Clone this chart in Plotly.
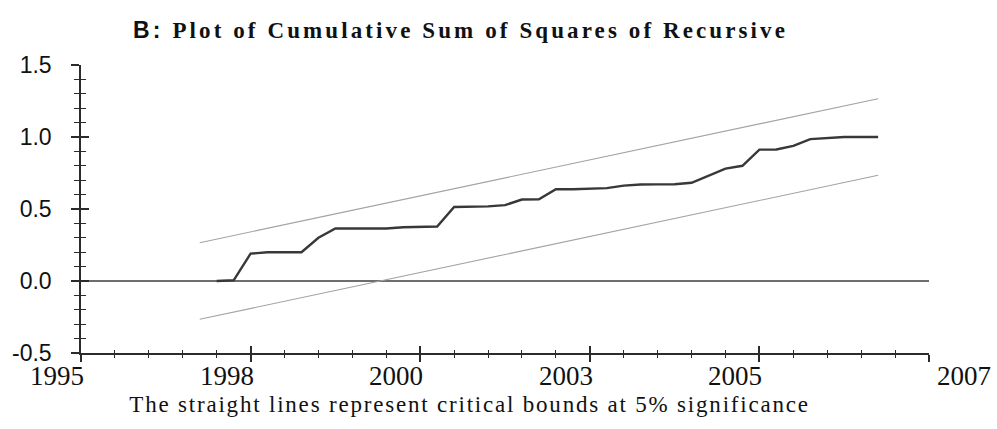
import plotly.graph_objects as go

# Observation index along the horizontal axis (quarters counted from the start of 1995)
obs = [8, 9, 10, 11, 12, 13, 14, 15, 16, 17, 18, 19, 20, 21, 22, 23, 24, 25, 26, 27,
       28, 29, 30, 31, 32, 33, 34, 35, 36, 37, 38, 39, 40, 41, 42, 43, 44, 45, 46, 47]

# Cumulative sum of squares of recursive residuals
cusumsq = [0.000, 0.005, 0.190, 0.200, 0.200, 0.200, 0.300, 0.365, 0.365, 0.365,
           0.365, 0.373, 0.373, 0.378, 0.514, 0.514, 0.518, 0.527, 0.566, 0.567,
           0.637, 0.637, 0.643, 0.645, 0.662, 0.670, 0.671, 0.672, 0.682, 0.733,
           0.780, 0.800, 0.912, 0.913, 0.938, 0.985, 0.995, 1.000, 1.000, 1.000]

# 5% critical bounds (straight lines between the first and last observation)
bound_obs = [7, 47]
upper_bound = [0.266, 1.266]
lower_bound = [-0.266, 0.734]

# Axis ticks and their labels
x_ticks = [0, 10, 20, 30, 40, 50]
x_labels = ["1995", "1998", "2000", "2003", "2005", "2007"]
y_ticks = [-0.5, 0.0, 0.5, 1.0, 1.5]
y_labels = ["-0.5", "0.0", "0.5", "1.0", "1.5"]

AXIS = "#2b2b2b"
SERIF = "Liberation Serif"
SANS = "Liberation Sans"

fig = go.Figure()

fig.add_trace(go.Scatter(
    x=obs, y=cusumsq, mode="lines",
    line=dict(color="#383838", width=2.4),
    xaxis="x", yaxis="y", hoverinfo="skip",
))
fig.add_trace(go.Scatter(
    x=bound_obs, y=upper_bound, mode="lines",
    line=dict(color="#a3a3a3", width=1.1),
    xaxis="x2", yaxis="y2", hoverinfo="skip",
))
fig.add_trace(go.Scatter(
    x=bound_obs, y=lower_bound, mode="lines",
    line=dict(color="#a3a3a3", width=1.1),
    xaxis="x2", yaxis="y2", hoverinfo="skip",
))

x_range = [x_ticks[0], x_ticks[-1]]
y_range = [y_ticks[0], y_ticks[-1]]

fig.update_layout(
    width=997, height=429,
    margin=dict(l=76, r=68, t=65, b=76),
    paper_bgcolor="white", plot_bgcolor="white",
    showlegend=False,
    xaxis=dict(
        range=x_range, showgrid=False, zeroline=False,
        showline=True, linecolor=AXIS, linewidth=1.5,
        tickmode="array", tickvals=x_ticks, showticklabels=False,
        ticks="outside", ticklen=7, tickwidth=1.5, tickcolor=AXIS,
        minor=dict(ticks="outside", tickmode="linear", tick0=0, dtick=2,
                   ticklen=3, tickwidth=1.2, tickcolor=AXIS, showgrid=False),
    ),
    xaxis2=dict(
        range=x_range, overlaying="x", anchor="y2", side="bottom",
        showgrid=False, zeroline=False, showline=False,
        tickmode="array", tickvals=x_ticks, showticklabels=False,
        ticks="inside", ticklen=7, tickwidth=1.5, tickcolor=AXIS,
        minor=dict(ticks="inside", tickmode="linear", tick0=0, dtick=2,
                   ticklen=3, tickwidth=1.2, tickcolor=AXIS, showgrid=False),
    ),
    yaxis=dict(
        range=y_range, showgrid=False,
        zeroline=True, zerolinecolor="#6e6e6e", zerolinewidth=1.5,
        showline=True, linecolor=AXIS, linewidth=1.5,
        tickmode="array", tickvals=y_ticks, ticktext=y_labels,
        tickfont=dict(family=SANS, size=23, color="#111111"),
        ticks="outside", ticklen=8, tickwidth=1.5, tickcolor=AXIS,
        ticklabelstandoff=15,
        minor=dict(ticks="outside", tickmode="linear", tick0=0, dtick=0.1,
                   ticklen=5, tickwidth=1.2, tickcolor=AXIS, showgrid=False),
    ),
    yaxis2=dict(
        range=y_range, overlaying="y", anchor="x2",
        showgrid=False, zeroline=False, showline=False,
        tickmode="array", tickvals=y_ticks, showticklabels=False,
        ticks="inside", ticklen=8, tickwidth=1.5, tickcolor=AXIS,
        minor=dict(ticks="inside", tickmode="linear", tick0=0, dtick=0.1,
                   ticklen=5, tickwidth=1.2, tickcolor=AXIS, showgrid=False),
    ),
)

# Year labels beneath the major ticks (set to the left of each tick, last one to the right)
for i, (xv, lab) in enumerate(zip(x_ticks, x_labels)):
    last = i == len(x_ticks) - 1
    fig.add_annotation(
        x=xv, y=0, xref="x", yref="paper",
        text=lab, showarrow=False,
        xanchor="left" if last else "right", yanchor="top",
        xshift=6 if last else 5, yshift=-6,
        font=dict(family=SERIF, size=27, color="#111111"),
    )

# Title (letter spacing widened after rendering, so it is anchored on its centre)
fig.add_annotation(
    x=0.448, y=1.12, xref="paper", yref="paper",
    xanchor="center", yanchor="middle", showarrow=False,
    text=(f"<span style='font-family:{SANS}'><b>B:</b></span> "
          "<b>Plot of Cumulative Sum of Squares of Recursive</b>"),
    font=dict(family=SERIF, size=23, color="#111111"),
)

# Caption under the axis
fig.add_annotation(
    x=0.458, y=-0.18, xref="paper", yref="paper",
    xanchor="center", yanchor="middle", showarrow=False,
    text="The straight lines represent critical bounds at 5% significance",
    font=dict(family=SERIF, size=23, color="#111111"),
)

spacing_js = """
document.querySelectorAll('.annotation-text').forEach(function (t) {
  var s = t.textContent;
  if (s.indexOf('B:') === 0) { t.style.letterSpacing = '3.1px'; }
  if (s.indexOf('The straight') === 0) { t.style.letterSpacing = '1.8px'; }
});
"""

fig.write_html("out.html", post_script=spacing_js)
